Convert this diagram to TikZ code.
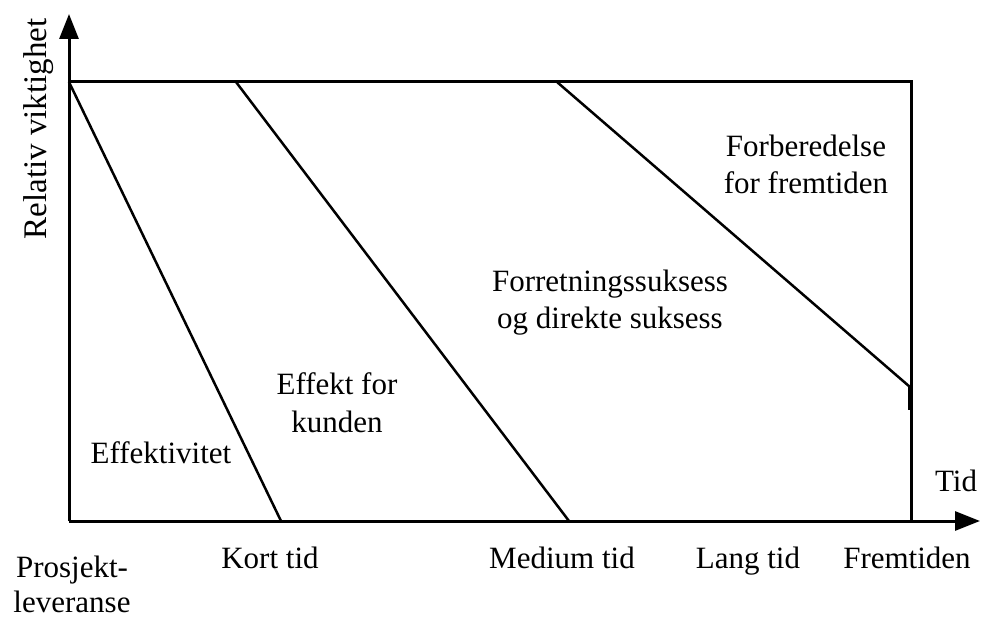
\documentclass[tikz,border=0pt]{standalone}
\usepackage{fontspec}
\setmainfont{Liberation Serif}
\usetikzlibrary{arrows.meta}
\begin{document}
\begin{tikzpicture}[x=1pt,y=-1pt,
  frame/.style={line width=3pt},
  axis/.style={line width=3pt,-{Triangle[length=25pt,width=19pt]}},
  lbl/.style={font=\fontsize{31}{37}\selectfont,inner sep=0pt,anchor=base}]
\useasboundingbox (0,0) rectangle (983,617);
% corner points of the chart
\coordinate (O) at (69,521);
\coordinate (TL) at (69,82);
\coordinate (TR) at (911,82);
\coordinate (BR) at (911,521);
\coordinate (yend) at (69,14);
\coordinate (xend) at (980,521);
% axes
\draw[axis] (O) -- (yend);
\draw[axis] (O) -- (xend);
% frame
\draw[frame] (TL) -- (TR) -- (BR);
% phase boundaries
\coordinate (a1) at (69,82);   \coordinate (b1) at (281,521);
\coordinate (a2) at (236,82);  \coordinate (b2) at (569,521);
\coordinate (a3) at (557,82);  \coordinate (b3) at (910,387);
\coordinate (n2) at (910,410);
\draw[line width=2.5pt] (a1) -- (b1);
\draw[line width=2.5pt] (a2) -- (b2);
\draw[line width=2.5pt] (a3) -- (b3);
\draw[line width=4.5pt] (b3) -- (n2);
% axis labels
\node[font=\fontsize{33}{40}\selectfont,inner sep=0pt,rotate=90] (ylab) at (39,129) {Relativ viktighet};
\node[lbl] (xlab) at (956,492) {Tid};
% time marks
\node[lbl] (t0a) at (72,577) {Prosjekt-};
\node[lbl] (t0b) at (72,612) {leveranse};
\node[lbl] (t1) at (270,568) {Kort tid};
\node[lbl] (t2) at (562,568) {Medium tid};
\node[lbl] (t3) at (748,568) {Lang tid};
\node[lbl] (t4) at (907,568) {Fremtiden};
% phases
\node[lbl] (p1) at (161,464) {Effektivitet};
\node[lbl] (p2a) at (337,395) {Effekt for};
\node[lbl] (p2b) at (337,433) {kunden};
\node[lbl] (p3a) at (610,292) {Forretningssuksess};
\node[lbl] (p3b) at (610,329) {og direkte suksess};
\node[lbl] (p4a) at (806,157) {Forberedelse};
\node[lbl] (p4b) at (806,194) {for fremtiden};
\end{tikzpicture}
\end{document}
